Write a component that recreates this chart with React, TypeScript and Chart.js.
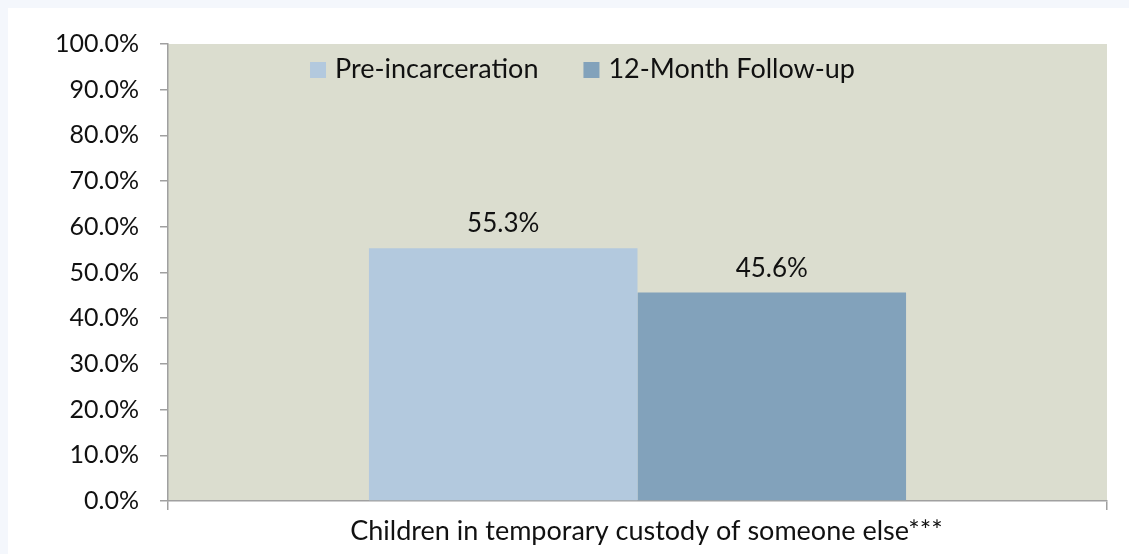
import React, { useEffect, useRef } from 'react';
import { Chart, registerables } from 'chart.js';

Chart.register(...registerables);

const categories = ['Children in temporary custody of someone else***'];
const seriesLabels = ['Pre-incarceration', '12-Month Follow-up'];
const preIncarceration = [55.3];
const followUp = [45.6];
const seriesColors = ['#b3c9de', '#82a2bb'];
const yMin = 0;
const yMax = 100;
const yStep = 10;

const FONT = 'Lato, Carlito, Calibri, "Liberation Sans", sans-serif';
const TICK_SIZE = 25;
const TEXT_SIZE = 27;
const VALUE_SIZE = 26;
const AXIS_COLOR = '#a0a0a0';
const PLOT_BG = '#dbddcf';

const plotBackground = {
  id: 'plotBackground',
  beforeDraw(chart: any) {
    const { ctx, chartArea } = chart;
    ctx.save();
    ctx.fillStyle = PLOT_BG;
    ctx.fillRect(chartArea.left, chartArea.top, chartArea.right - chartArea.left, chartArea.bottom - chartArea.top);
    ctx.restore();
  },
};

const valueLabels = {
  id: 'valueLabels',
  afterDatasetsDraw(chart: any) {
    const { ctx } = chart;
    ctx.save();
    ctx.font = `${VALUE_SIZE}px ${FONT}`;
    ctx.fillStyle = '#111';
    ctx.textAlign = 'center';
    ctx.textBaseline = 'alphabetic';
    chart.data.datasets.forEach((ds: any, i: number) => {
      const meta = chart.getDatasetMeta(i);
      meta.data.forEach((bar: any, j: number) => {
        const v = ds.data[j];
        ctx.fillText(v.toFixed(1) + '%', bar.x, bar.y - 16);
      });
    });
    ctx.restore();
  },
};

const insideLegend = {
  id: 'insideLegend',
  afterDraw(chart: any) {
    const { ctx, chartArea } = chart;
    const box = 16;
    const boxGap = 9;
    const itemGap = 45;
    ctx.save();
    ctx.font = `${TEXT_SIZE}px ${FONT}`;
    const items = chart.data.datasets.map((ds: any) => ({
      label: ds.label,
      color: ds.backgroundColor,
      w: ctx.measureText(ds.label).width,
    }));
    const total = items.reduce((s: number, it: any) => s + box + boxGap + it.w, 0) + itemGap * (items.length - 1);
    const center = chartArea.left + 414.5;
    let x = center - total / 2;
    const baseline = chartArea.top + 34;
    ctx.textBaseline = 'alphabetic';
    ctx.textAlign = 'left';
    items.forEach((it: any) => {
      ctx.fillStyle = it.color;
      ctx.fillRect(x, baseline - box, box, box);
      ctx.fillStyle = '#111';
      ctx.fillText(it.label, x + box + boxGap, baseline);
      x += box + boxGap + it.w + itemGap;
    });
    ctx.restore();
  },
};

export default function App() {
  const canvasRef = useRef<HTMLCanvasElement | null>(null);

  useEffect(() => {
    document.body.style.background = '#f4f7fc';
    const canvas = canvasRef.current;
    if (!canvas) return;
    const chart = new Chart(canvas, {
      type: 'bar',
      data: {
        labels: categories,
        datasets: [
          {
            label: seriesLabels[0],
            data: preIncarceration,
            backgroundColor: seriesColors[0],
            borderWidth: 0,
          },
          {
            label: seriesLabels[1],
            data: followUp,
            backgroundColor: seriesColors[1],
            borderWidth: 0,
          },
        ],
      },
      options: {
        responsive: false,
        animation: false,
        devicePixelRatio: 1,
        layout: { padding: { top: 35, right: 22, bottom: 0, left: 0 } },
        datasets: {
          bar: { categoryPercentage: 0.572, barPercentage: 1 },
        },
        plugins: {
          legend: { display: false },
          tooltip: { enabled: false },
          title: { display: false },
        },
        scales: {
          x: {
            offset: true,
            grid: {
              offset: true,
              drawOnChartArea: false,
              drawTicks: true,
              tickLength: 9,
              color: AXIS_COLOR,
              lineWidth: 1.5,
            },
            border: { display: true, color: AXIS_COLOR, width: 1.5 },
            ticks: {
              color: '#111',
              font: { family: FONT, size: TEXT_SIZE },
              padding: 5,
              labelOffset: 9,
              maxRotation: 0,
              autoSkip: false,
            },
            afterFit(scale: any) {
              scale.height = 53;
            },
          },
          y: {
            min: yMin,
            max: yMax,
            ticks: {
              stepSize: yStep,
              color: '#111',
              font: { family: FONT, size: TICK_SIZE },
              padding: 21,
              callback: (v: any) => Number(v).toFixed(1) + '%',
            },
            grid: {
              drawOnChartArea: false,
              drawTicks: true,
              tickLength: 8,
              color: AXIS_COLOR,
              lineWidth: 1.5,
            },
            border: { display: true, color: AXIS_COLOR, width: 1.5 },
            afterFit(scale: any) {
              scale.width = 160;
            },
          },
        },
      },
      plugins: [plotBackground, valueLabels, insideLegend],
    });
    return () => chart.destroy();
  }, []);

  return (
    <div
      style={{
        position: 'absolute',
        left: 8,
        top: 8,
        width: 1121,
        height: 546,
        background: '#ffffff',
      }}
    >
      <canvas ref={canvasRef} width={1121} height={546} style={{ display: 'block' }} />
    </div>
  );
}
